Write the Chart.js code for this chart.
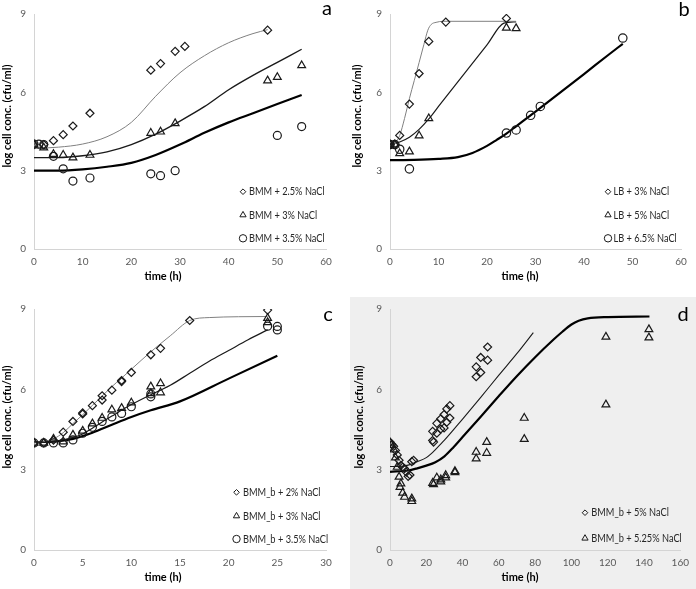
<!DOCTYPE html>
<html><head><meta charset="utf-8">
<script src="https://cdn.jsdelivr.net/npm/chart.js@4/dist/chart.umd.min.js"></script>
<style>
html,body{margin:0;padding:0;background:#fff;width:696px;height:589px;overflow:hidden}
.p{position:absolute}
#bgd{position:absolute;left:350px;top:297px;width:346px;height:292px;background:#efefef}
</style></head><body>
<div id="bgd"></div>
<canvas id="ca" class="p" width="348" height="295" style="left:0;top:0"></canvas>
<canvas id="cb" class="p" width="348" height="295" style="left:348px;top:0"></canvas>
<canvas id="cc" class="p" width="348" height="294" style="left:0;top:295px"></canvas>
<canvas id="cd" class="p" width="348" height="294" style="left:348px;top:295px"></canvas>
<script>
// ---------- shared ----------
const Y_TICKS = [0, 3, 6, 9];
const Y_TITLE = 'log cell conc. (cfu/ml)';
const X_TITLE = 'time (h)';

// ---------- panel a ----------
const A_LETTER = 'a';
const A_X_TICKS = [0, 10, 20, 30, 40, 50, 60];
const A_NAMES = ['BMM + 2.5% NaCl', 'BMM + 3% NaCl', 'BMM + 3.5% NaCl'];
const A_T1 = [0, 2, 4, 6, 8, 11.5, 24, 26, 29, 31, 48];
const A_Y1 = [4.0, 4.0, 4.15, 4.38, 4.71, 5.2, 6.85, 7.1, 7.57, 7.76, 8.38];
const A_T2 = [0, 2, 4, 6, 8, 11.5, 24, 26, 29, 48, 50, 55];
const A_Y2 = [4.0, 3.88, 3.63, 3.6, 3.5, 3.6, 4.44, 4.49, 4.81, 6.45, 6.58, 7.03];
const A_T3 = [0, 1, 2, 4, 6, 8, 11.5, 24, 26, 29, 50, 55];
const A_Y3 = [4.02, 4.02, 4.0, 3.55, 3.07, 2.6, 2.72, 2.88, 2.81, 3.0, 4.35, 4.69];
const A_MT1 = [0, 5, 10, 15, 20, 25, 30, 35, 40, 45, 48];
const A_M1 = [3.85, 3.9, 4.02, 4.3, 4.85, 5.85, 6.75, 7.4, 7.9, 8.25, 8.4];
const A_MT2 = [0, 5, 10, 15, 20, 25, 30, 35, 40, 45, 50, 55];
const A_M2 = [3.5, 3.5, 3.57, 3.72, 4.0, 4.4, 4.9, 5.45, 6.1, 6.65, 7.15, 7.65];
const A_MT3 = [0, 5, 10, 15, 20, 25, 30, 35, 40, 45, 50, 55];
const A_M3 = [3.0, 3.0, 3.05, 3.15, 3.3, 3.6, 4.0, 4.45, 4.85, 5.2, 5.55, 5.9];

// ---------- panel b ----------
const B_LETTER = 'b';
const B_X_TICKS = [0, 10, 20, 30, 40, 50, 60];
const B_NAMES = ['LB + 3% NaCl', 'LB + 5% NaCl', 'LB + 6.5% NaCl'];
const B_T1 = [0, 1, 2, 4, 6, 8, 11.5, 24];
const B_Y1 = [4.0, 4.0, 4.35, 5.55, 6.72, 7.95, 8.69, 8.83];
const B_T2 = [0, 1, 2, 4, 6, 8, 24, 26];
const B_Y2 = [4.0, 4.0, 3.66, 3.73, 4.34, 5.0, 8.47, 8.45];
const B_T3 = [0, 1, 2, 4, 24, 26, 29, 31, 48];
const B_Y3 = [4.0, 4.0, 3.82, 3.07, 4.44, 4.56, 5.12, 5.46, 8.08];
const B_MT1 = [0, 1, 2, 3, 4, 5, 6, 7, 7.8, 8.5, 9.5, 11, 26];
const B_M1 = [3.98, 4.05, 4.35, 5.0, 5.76, 6.45, 7.14, 7.84, 8.38, 8.6, 8.68, 8.72, 8.72];
const B_MT2 = [0, 2, 4, 6, 8, 10, 15, 20, 23.5, 26];
const B_M2 = [4.02, 4.1, 4.28, 4.58, 4.98, 5.46, 6.64, 7.82, 8.65, 8.7];
const B_MT3 = [0, 5, 10, 14, 17, 20, 22, 24, 26, 30, 35, 40, 45, 48];
const B_M3 = [3.4, 3.41, 3.45, 3.52, 3.68, 3.95, 4.18, 4.42, 4.7, 5.26, 5.98, 6.7, 7.43, 7.86];

// ---------- panel c ----------
const C_LETTER = 'c';
const C_X_TICKS = [0, 5, 10, 15, 20, 25, 30];
const C_NAMES = ['BMM_b + 2% NaCl', 'BMM_b + 3% NaCl', 'BMM_b + 3.5% NaCl'];
const C_T1 = [0, 1, 2, 3, 4, 5, 5, 6, 7, 7, 8, 9, 9, 10, 12, 13, 16, 24];
const C_Y1 = [4.0, 4.0, 4.1, 4.4, 4.8, 5.08, 5.12, 5.39, 5.76, 5.6, 5.97, 6.29, 6.33, 6.63, 7.29, 7.53, 8.57, 8.96];
const C_T2 = [0, 1, 2, 3, 4, 5, 6, 7, 8, 9, 10, 12, 12, 13, 13, 24, 24];
const C_Y2 = [4.0, 4.0, 4.15, 4.05, 4.3, 4.45, 4.72, 4.93, 5.24, 5.3, 5.5, 6.1, 5.85, 6.22, 5.88, 8.66, 8.5];
const C_T3 = [0, 1, 2, 3, 4, 5, 6, 7, 8, 9, 10, 12, 12, 24, 25, 25];
const C_Y3 = [4.0, 4.0, 4.0, 4.0, 4.11, 4.36, 4.58, 4.8, 4.97, 5.1, 5.35, 5.83, 5.72, 8.36, 8.35, 8.22];
const C_MT1 = [0, 1, 2, 3, 4, 5, 6, 7, 8, 9, 10, 12, 14, 16, 18, 24];
const C_M1 = [4.03, 4.05, 4.15, 4.38, 4.72, 5.05, 5.4, 5.75, 6.1, 6.42, 6.75, 7.4, 8.0, 8.57, 8.68, 8.72];
const C_MT2 = [0, 2, 4, 5, 6, 8, 10, 12, 13, 14, 16, 18, 20, 22, 24];
const C_M2 = [4.02, 4.05, 4.2, 4.33, 4.55, 5.0, 5.43, 5.8, 5.97, 6.15, 6.6, 7.05, 7.45, 7.85, 8.22];
const C_MT3 = [0, 2, 4, 6, 8, 10, 12, 15, 20, 25];
const C_M3 = [4.03, 4.05, 4.15, 4.38, 4.68, 4.97, 5.22, 5.55, 6.4, 7.25];

// ---------- panel d ----------
const D_LETTER = 'd';
const D_X_TICKS = [0, 20, 40, 60, 80, 100, 120, 140, 160];
const D_NAMES = ['BMM_b + 5% NaCl', 'BMM_b + 5.25% NaCl'];
const D_T1 = [0, 1, 2, 3, 4, 5, 6, 7, 8, 9, 10, 11, 12, 13, 23.5, 23.5, 24, 25.8, 25.8, 28, 28, 29.8, 29.8, 31.3, 31.3, 33, 33, 47.5, 47.5, 50, 50, 53.8, 53.8];
const D_Y1 = [4.03, 3.95, 3.87, 3.72, 3.55, 3.35, 3.16, 3.1, 3.04, 2.91, 2.75, 2.8, 3.3, 3.35, 4.09, 4.43, 4.03, 4.36, 4.73, 4.52, 4.9, 4.56, 5.06, 4.77, 5.27, 4.93, 5.39, 6.47, 6.84, 6.63, 7.19, 7.09, 7.58];
const D_T2 = [0, 1, 2, 3, 4, 5, 5.5, 6, 7, 8, 12, 12, 23.5, 24, 25.8, 28, 28, 30.7, 30.7, 35.8, 35.8, 47.5, 47.5, 53.3, 53.3, 74, 74, 119, 119, 142.7, 142.7];
const D_Y2 = [4.0, 3.92, 3.75, 3.45, 3.1, 2.73, 2.35, 2.48, 2.13, 1.98, 1.92, 1.82, 2.5, 2.45, 2.7, 2.63, 2.55, 2.79, 2.7, 2.94, 2.9, 3.66, 3.41, 4.03, 3.62, 4.93, 4.14, 7.96, 5.43, 8.24, 7.93];
const D_MT1 = [0, 5, 10, 15, 20, 22.6, 25, 30, 40, 50, 60, 70, 79];
const D_M1 = [3.12, 3.12, 3.17, 3.3, 3.45, 3.59, 3.75, 4.1, 4.89, 5.7, 6.53, 7.34, 8.12];
const D_MT2 = [0, 10, 15, 20, 25, 30, 35, 40, 50, 60, 70, 80, 90, 95, 100, 104, 109, 120, 143];
const D_M2 = [2.92, 2.97, 3.05, 3.15, 3.28, 3.5, 3.84, 4.22, 4.98, 5.75, 6.5, 7.2, 7.85, 8.15, 8.42, 8.56, 8.65, 8.7, 8.72];

// ---------- helpers ----------
const xy = (t, v) => t.map((x, i) => ({x: x, y: v[i]}));
const INK = '#1a1a1a';

function marker(label, t, v, style, r) {
  return {label: label, data: xy(t, v), showLine: false, pointStyle: style, pointRadius: r,
    pointHoverRadius: r, pointBorderWidth: 1.2, pointBorderColor: INK,
    pointBackgroundColor: 'rgba(0,0,0,0)', order: 1};
}
function model(t, v, color, w) {
  return {type: 'line', data: xy(t, v), showLine: true, pointRadius: 0, borderColor: color,
    borderWidth: w, fill: false, cubicInterpolationMode: 'monotone', order: 2};
}

function drawMark(ctx, style, x, y, r) {
  ctx.beginPath();
  if (style === 'rectRot') {
    ctx.moveTo(x, y - r); ctx.lineTo(x + r, y); ctx.lineTo(x, y + r); ctx.lineTo(x - r, y); ctx.closePath();
  } else if (style === 'triangle') {
    ctx.moveTo(x, y - r); ctx.lineTo(x + r * 0.866, y + r / 2); ctx.lineTo(x - r * 0.866, y + r / 2); ctx.closePath();
  } else {
    ctx.arc(x, y, r, 0, Math.PI * 2);
  }
  ctx.stroke();
}

const decor = {
  id: 'decor',
  afterDraw(chart, args, o) {
    const ctx = chart.ctx;
    ctx.save();
    ctx.fillStyle = '#000';
    ctx.font = 'bold 11px Lato';
    ctx.textAlign = 'center';
    ctx.textBaseline = 'middle';
    ctx.save();
    ctx.translate(o.yTitle[0], o.yTitle[1]);
    ctx.rotate(-Math.PI / 2);
    ctx.fillText(Y_TITLE, 0, 0);
    ctx.restore();
    ctx.fillText(X_TITLE, o.xTitle[0], o.xTitle[1]);
    ctx.font = '20px Lato';
    ctx.textBaseline = 'alphabetic';
    ctx.fillText(o.letter, o.letterPos[0], o.letterPos[1]);
    ctx.font = '11px Lato';
    ctx.textAlign = 'left';
    ctx.textBaseline = 'middle';
    ctx.fillStyle = '#262626';
    ctx.strokeStyle = INK;
    ctx.lineWidth = 1;
    o.items.forEach((it, i) => {
      const y = o.legY[i];
      drawMark(ctx, it.style, o.legMX, y, it.r);
      ctx.save();
      ctx.translate(o.legTX, y);
      ctx.scale(0.84, 1);
      ctx.fillText(it.text, 0, 0);
      ctx.restore();
    });
    ctx.restore();
  }
};

function makePanel(id, datasets, xMax, xTicks, lay, deco) {
  new Chart(document.getElementById(id), {
    type: 'scatter',
    data: {datasets: datasets},
    plugins: [decor],
    options: {
      responsive: false, animation: false, events: [],
      layout: {padding: {left: 0, top: lay.top, right: lay.right, bottom: 0}},
      plugins: {legend: {display: false}, tooltip: {enabled: false}, decor: deco},
      scales: {
        x: {type: 'linear', min: 0, max: xMax,
          afterFit: s => { s.height = lay.xh; },
          afterBuildTicks: s => { s.ticks = xTicks.map(v => ({value: v})); },
          grid: {display: false, drawTicks: false},
          border: {display: true, color: '#d4d4d4', width: 1},
          ticks: {padding: 7, color: '#595959', font: {family: 'Lato', size: 10}, maxRotation: 0}},
        y: {type: 'linear', min: 0, max: 9,
          afterFit: s => { s.width = lay.yw; },
          afterBuildTicks: s => { s.ticks = Y_TICKS.map(v => ({value: v})); },
          grid: {display: false, drawTicks: false},
          border: {display: true, color: '#d4d4d4', width: 1},
          ticks: {padding: 8, color: '#595959', font: {family: 'Lato', size: 10}}}
      }
    }
  });
}

// panel a
makePanel('ca', [
  marker(A_NAMES[0], A_T1, A_Y1, 'rectRot', 4),
  marker(A_NAMES[1], A_T2, A_Y2, 'triangle', 4.5),
  marker(A_NAMES[2], A_T3, A_Y3, 'circle', 4),
  model(A_MT1, A_M1, '#808080', 1),
  model(A_MT2, A_M2, '#1a1a1a', 1.4),
  model(A_MT3, A_M3, '#000', 2.2)
], 60, A_X_TICKS, {top: 8, right: 22, xh: 46, yw: 34},
{yTitle: [7, 116], xTitle: [163, 276], letter: A_LETTER, letterPos: [327, 15],
 legMX: 243, legTX: 249, legY: [191.7, 215, 238.3],
 items: [{text: A_NAMES[0], style: 'rectRot', r: 2.8}, {text: A_NAMES[1], style: 'triangle', r: 3.6}, {text: A_NAMES[2], style: 'circle', r: 3.7}]});

// panel b
makePanel('cb', [
  marker(B_NAMES[0], B_T1, B_Y1, 'rectRot', 4),
  marker(B_NAMES[1], B_T2, B_Y2, 'triangle', 4.5),
  marker(B_NAMES[2], B_T3, B_Y3, 'circle', 4.2),
  model(B_MT1, B_M1, '#808080', 1),
  model(B_MT2, B_M2, '#1a1a1a', 1.2),
  model(B_MT3, B_M3, '#000', 2.2)
], 60, B_X_TICKS, {top: 8, right: 15, xh: 46, yw: 42},
{yTitle: [9, 116], xTitle: [172, 276], letter: B_LETTER, letterPos: [336, 16],
 legMX: 260, legTX: 265.5, legY: [191.7, 215, 238.3],
 items: [{text: B_NAMES[0], style: 'rectRot', r: 2.8}, {text: B_NAMES[1], style: 'triangle', r: 3.6}, {text: B_NAMES[2], style: 'circle', r: 3.7}]});

// panel c
makePanel('cc', [
  marker(C_NAMES[0], C_T1, C_Y1, 'rectRot', 4),
  marker(C_NAMES[1], C_T2, C_Y2, 'triangle', 4.5),
  marker(C_NAMES[2], C_T3, C_Y3, 'circle', 4),
  model(C_MT1, C_M1, '#808080', 1),
  model(C_MT2, C_M2, '#1a1a1a', 1.2),
  model(C_MT3, C_M3, '#000', 2.2)
], 30, C_X_TICKS, {top: 13, right: 22, xh: 39, yw: 34},
{yTitle: [7, 122], xTitle: [163, 282], letter: C_LETTER, letterPos: [328, 26],
 legMX: 236.5, legTX: 243, legY: [197.3, 221, 244],
 items: [{text: C_NAMES[0], style: 'rectRot', r: 2.8}, {text: C_NAMES[1], style: 'triangle', r: 3.6}, {text: C_NAMES[2], style: 'circle', r: 3.7}]});

// panel d
makePanel('cd', [
  marker(D_NAMES[0], D_T1, D_Y1, 'rectRot', 4),
  marker(D_NAMES[1], D_T2, D_Y2, 'triangle', 4.5),
  model(D_MT1, D_M1, '#1a1a1a', 1.1),
  model(D_MT2, D_M2, '#000', 2.2)
], 160, D_X_TICKS, {top: 13, right: 10, xh: 39, yw: 42},
{yTitle: [11, 122], xTitle: [172, 282], letter: D_LETTER, letterPos: [335, 26],
 legMX: 237, legTX: 243.3, legY: [217.7, 243.3],
 items: [{text: D_NAMES[0], style: 'rectRot', r: 2.8}, {text: D_NAMES[1], style: 'triangle', r: 3.6}]});
</script>
</body></html>
